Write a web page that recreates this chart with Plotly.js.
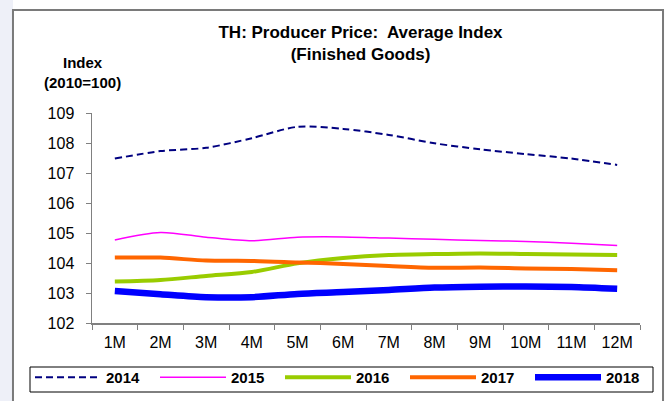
<!DOCTYPE html>
<html>
<head>
<meta charset="utf-8">
<script src="https://cdn.plot.ly/plotly-3.0.1.min.js"></script>
<style>
  body { margin: 0; background: linear-gradient(to right, #eef0f8 0px, #eef0f8 13px, #ffffff 13px); }
  #chart { width: 667px; height: 401px; }
</style>
</head>
<body>
<div id="chart"></div>
<script>
const months = ['1M', '2M', '3M', '4M', '5M', '6M', '7M', '8M', '9M', '10M', '11M', '12M'];
const years = ['2014', '2015', '2016', '2017', '2018'];

const y2014 = [107.48, 107.73, 107.84, 108.16, 108.54, 108.47, 108.27, 107.99, 107.79, 107.63, 107.48, 107.27];
const y2015 = [104.77, 105.02, 104.86, 104.74, 104.86, 104.87, 104.83, 104.79, 104.75, 104.72, 104.66, 104.58];
const y2016 = [103.38, 103.43, 103.57, 103.70, 103.99, 104.17, 104.27, 104.30, 104.32, 104.30, 104.28, 104.27];
const y2017 = [104.18, 104.18, 104.08, 104.07, 104.02, 103.97, 103.90, 103.84, 103.85, 103.82, 103.80, 103.76];
const y2018 = [103.07, 102.96, 102.86, 102.86, 102.97, 103.03, 103.10, 103.18, 103.21, 103.22, 103.20, 103.14];

const series = [y2014, y2015, y2016, y2017, y2018];
const colors = ['#000080', '#ff00ff', '#99cc00', '#ff6600', '#0000ff'];
const widths = [2, 1.5, 4, 4, 6.5];
const dashes = ['7px,4px', 'solid', 'solid', 'solid', 'solid'];

const traces = series.map((vals, i) => ({
  x: months,
  y: vals,
  name: '<b>' + years[i] + '</b>',
  type: 'scatter',
  mode: 'lines',
  line: { color: colors[i], width: widths[i], dash: dashes[i], shape: 'spline', smoothing: 0.8 }
}));

const layout = {
  width: 667,
  height: 401,
  margin: { l: 92, r: 27, t: 113, b: 78, autoexpand: false },
  paper_bgcolor: 'rgba(0,0,0,0)',
  plot_bgcolor: 'rgba(0,0,0,0)',
  font: { family: 'Arial, "Liberation Sans", sans-serif', color: '#000', size: 16 },
  title: {
    text: '<b>TH: Producer Price:  Average Index<br>(Finished Goods)</b>',
    font: { size: 17 },
    xref: 'paper', x: 0.49, xanchor: 'center',
    yref: 'container', y: 1 - 38 / 401, yanchor: 'middle'
  },
  xaxis: {
    type: 'category',
    range: [-0.5, 11.5],
    tickson: 'boundaries',
    ticks: 'outside', ticklen: 5, tickcolor: '#808080',
    showline: true, linecolor: '#808080', linewidth: 1.5,
    showgrid: false, zeroline: false,
    ticklabelstandoff: 4,
    tickfont: { size: 16 }
  },
  yaxis: {
    range: [102, 109],
    dtick: 1,
    ticks: 'outside', ticklen: 5, tickcolor: '#808080',
    showline: true, linecolor: '#808080', linewidth: 1.5,
    showgrid: false, zeroline: false,
    ticklabelstandoff: 8,
    tickfont: { size: 16 }
  },
  showlegend: true,
  legend: {
    orientation: 'h',
    xref: 'paper', x: (30 - 92) / 548, xanchor: 'left',
    yref: 'paper', y: (323 - 361) / 210, yanchor: 'top',
    borderwidth: 0,
    bgcolor: 'rgba(0,0,0,0)',
    font: { size: 15 },
    itemwidth: 66,
    entrywidth: 44
  },
  shapes: [{
    type: 'rect', layer: 'below',
    xref: 'paper', yref: 'paper',
    x0: -0.1442, x1: 1.042, y0: -0.4, y1: 1.49,
    fillcolor: '#ffffff',
    line: { color: '#7a7a7a', width: 2 }
  }, {
    // legend frame
    type: 'rect', layer: 'below',
    xref: 'paper', yref: 'paper',
    x0: (30 - 92) / 548, x1: (653 - 92) / 548,
    y0: (323 - 392) / 210, y1: (323 - 367) / 210,
    fillcolor: '#ffffff',
    line: { color: '#000000', width: 1 }
  }],
  annotations: [{
    text: '<b>Index<br>(2010=100)</b>',
    xref: 'paper', yref: 'paper',
    x: (82 - 92) / 548, y: (323 - 72) / 210, xanchor: 'center', yanchor: 'middle',
    showarrow: false, font: { size: 15 }
  }]
};

Plotly.newPlot('chart', traces, layout, { displayModeBar: false, staticPlot: true });
</script>
</body>
</html>
